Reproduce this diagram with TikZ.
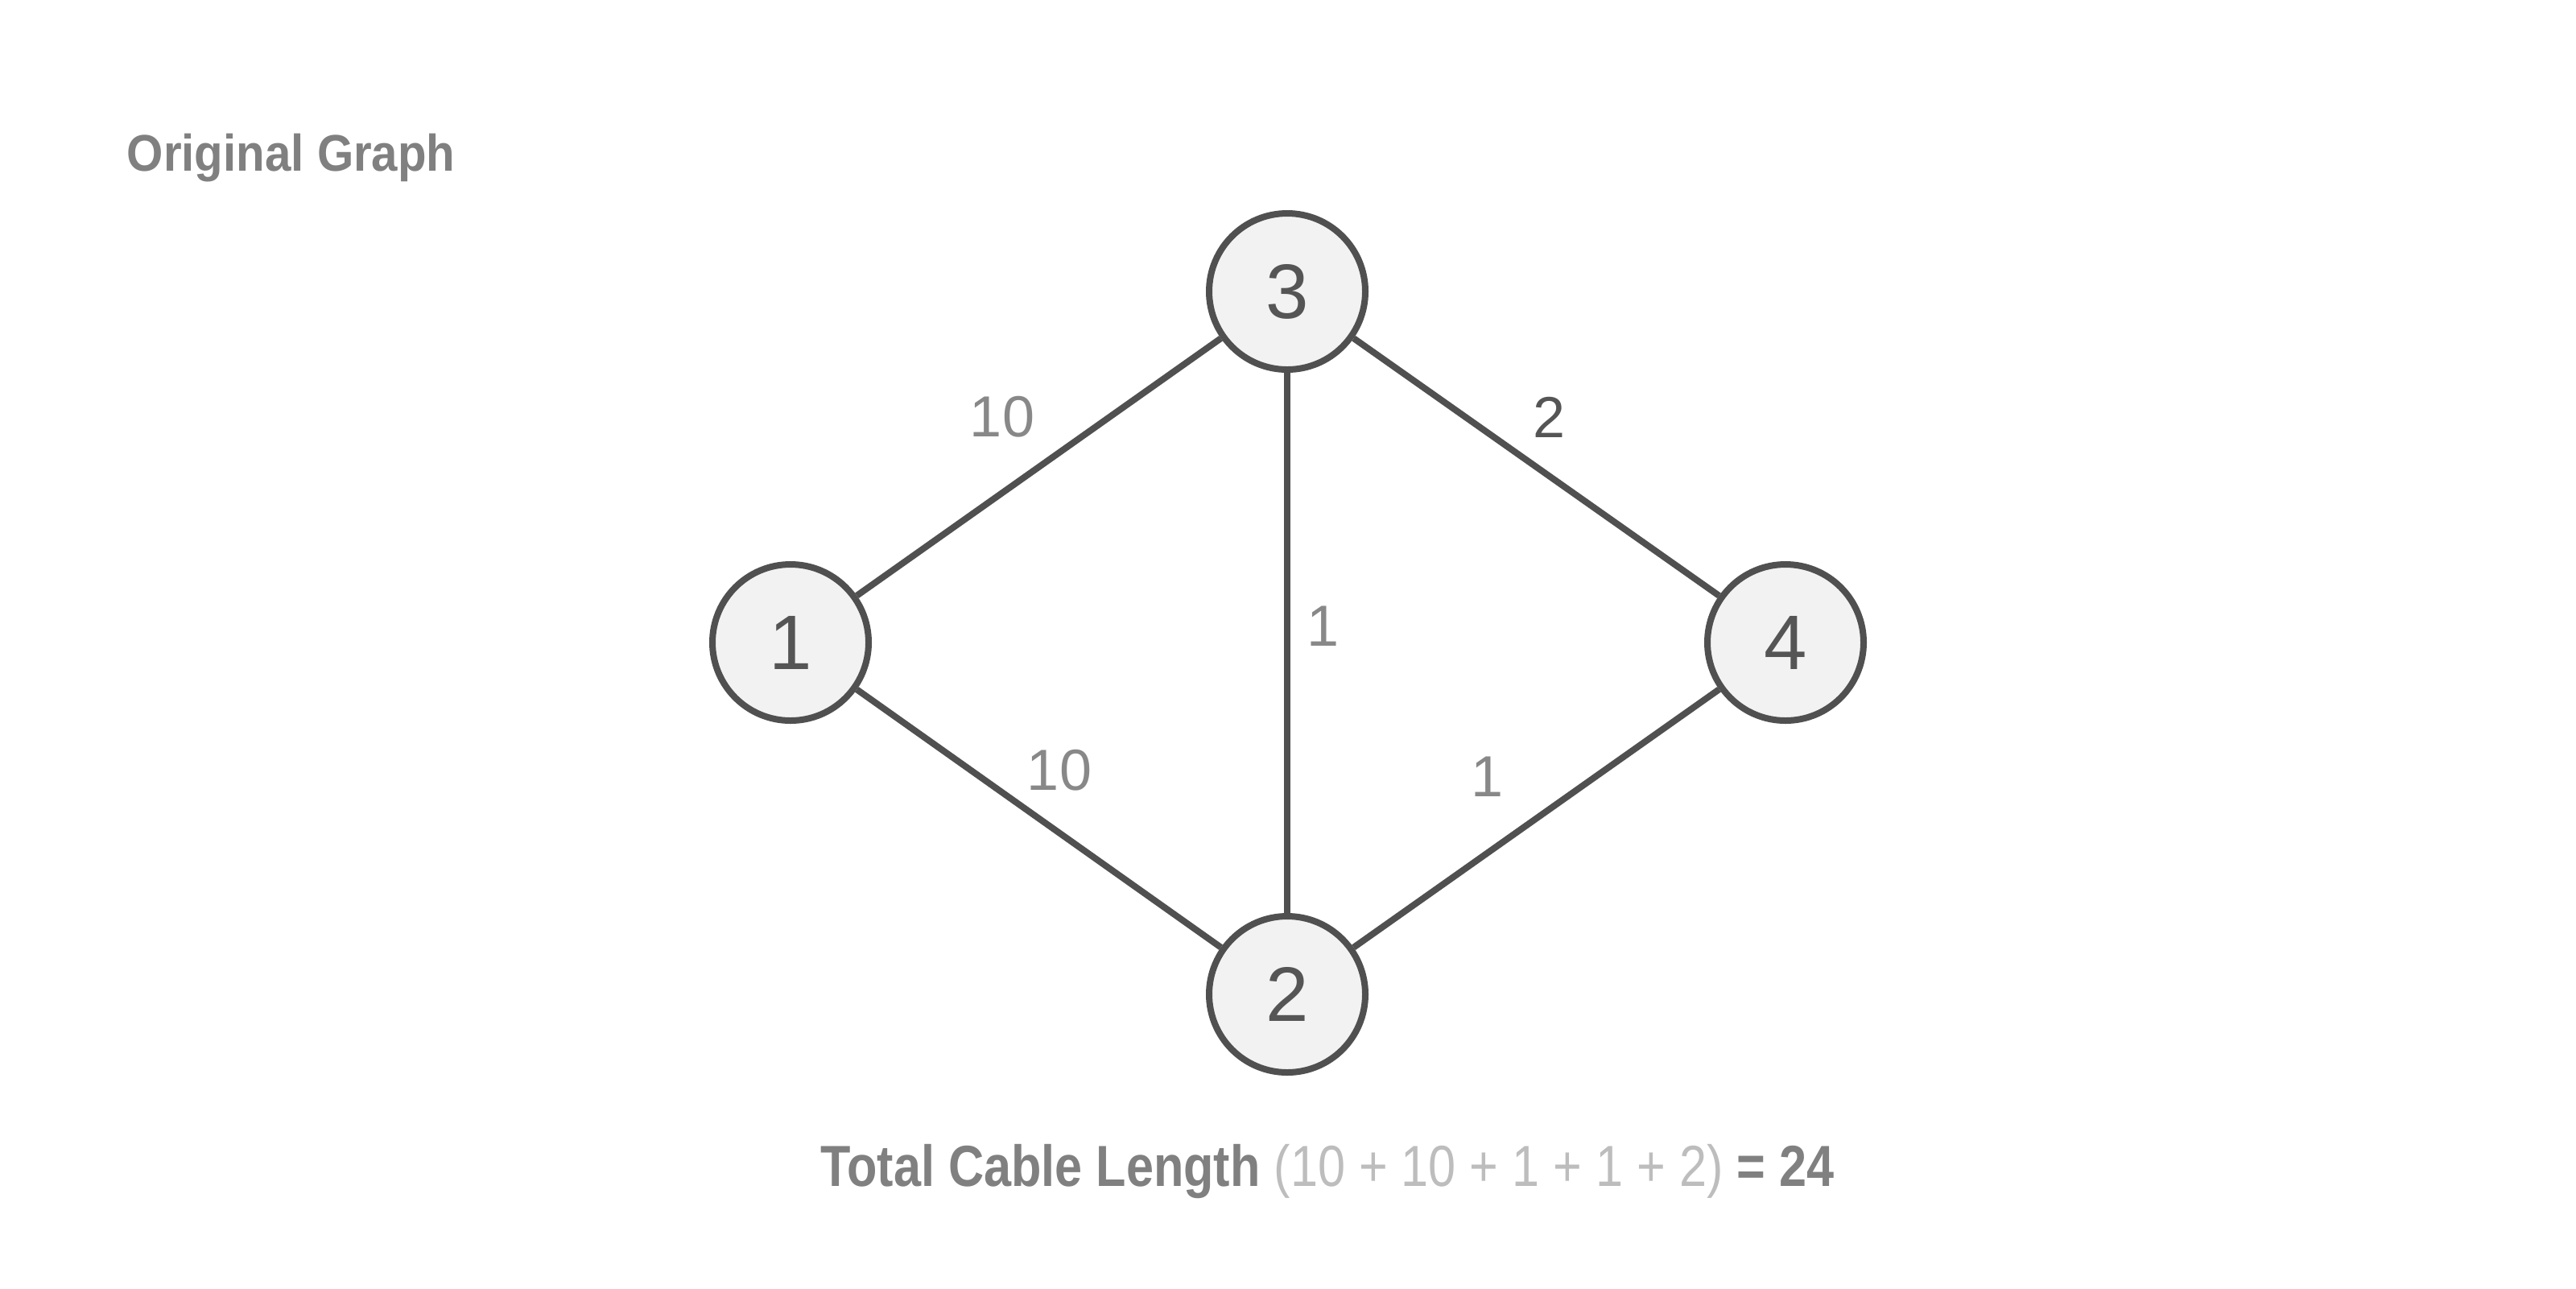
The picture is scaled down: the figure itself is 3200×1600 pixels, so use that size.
\documentclass[tikz,border=0pt]{standalone}
\usepackage{fontspec}
\usepackage{graphicx}
\setmainfont{Liberation Sans}
\definecolor{strokec}{HTML}{505050}
\definecolor{fillc}{HTML}{F2F2F2}
\definecolor{numc}{HTML}{555555}
\definecolor{labc}{HTML}{888888}
\definecolor{titlec}{HTML}{808080}
\definecolor{lightc}{HTML}{BDBDBD}
\begin{document}
\begin{tikzpicture}[x=0.25pt,y=-0.25pt,
  vert/.style={circle,draw=strokec,fill=fillc,line width=2pt,inner sep=0pt,minimum size=48.5pt,
    text=numc,font=\fontsize{24}{28}\selectfont},
  edge/.style={draw=strokec,line width=2pt},
  wlab/.style={text=labc,font=\fontsize{18}{21}\selectfont,inner sep=0pt},
  wlabd/.style={text=numc,font=\fontsize{18}{21}\selectfont,inner sep=0pt}]
\useasboundingbox (0,0) rectangle (3200,1600);
\node[anchor=base west,text=titlec,font=\fontsize{16}{19}\selectfont\bfseries,inner sep=0pt] (title) at (157,212) {\scalebox{0.91}[1]{Original Graph}};
\node[vert] (n3) at (1599,362) {3};
\node[vert] (n1) at (982,798) {1};
\node[vert] (n4) at (2218,798) {4};
\node[vert] (n2) at (1599,1235) {2};
\draw[edge] (n1) -- (n3);
\draw[edge] (n3) -- (n4);
\draw[edge] (n3) -- (n2);
\draw[edge] (n1) -- (n2);
\draw[edge] (n2) -- (n4);
\node[wlab] (l13) at (1245,518) {10};
\node[wlabd] (l34) at (1924,518) {2};
\node[wlab] (l32) at (1643,778) {1};
\node[wlab] (l12) at (1316,957) {10};
\node[wlab] (l24) at (1847,965) {1};
\node[anchor=base,inner sep=0pt,font=\fontsize{18}{21}\selectfont] (total) at (1649,1473)
  {\scalebox{0.85}[1]{\textcolor{titlec}{\bfseries Total Cable Length} \textcolor{lightc}{(10 + 10 + 1 + 1 + 2)} \textcolor{titlec}{\bfseries = 24}}};
\end{tikzpicture}
\end{document}
